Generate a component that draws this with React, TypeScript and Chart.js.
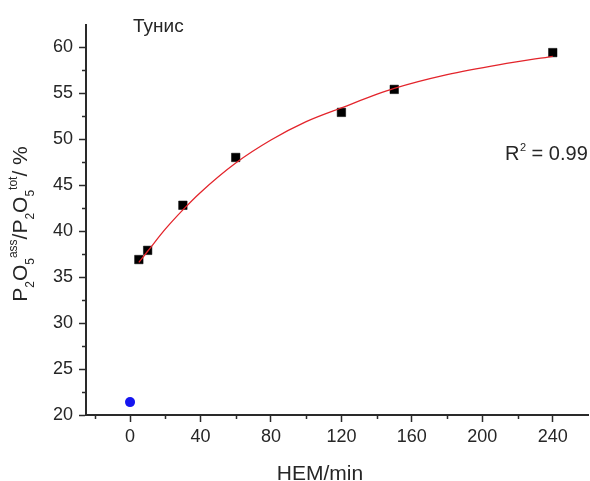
import React, { useEffect, useRef } from "react";
import { Chart, registerables } from "chart.js";
Chart.register(...registerables);

// Measured data (HEM time in minutes vs. P2O5 ass / P2O5 tot in %)
const timeMin = [5, 10, 30, 60, 120, 150, 240];
const ratioPct = [36.9, 37.9, 42.8, 48.0, 52.9, 55.4, 59.4];
// Untreated sample
const untreatedX = [0];
const untreatedY = [21.4];
// Fit curve
const fitX = [5, 10, 20, 30, 40, 60, 80, 100, 120, 150, 180, 210, 240];
const fitY = [36.6, 37.8, 40.2, 42.3, 44.2, 47.4, 49.9, 51.9, 53.4, 55.5, 57.0, 58.1, 59.0];
// Axis ticks
const xMajorStep = 40;
const xMinorTicks = [-20, 20, 60, 100, 140, 180, 220];
const yMajorStep = 5;
const yMinorTicks = [22.5, 27.5, 32.5, 37.5, 42.5, 47.5, 52.5, 57.5];
const sampleLabel = "Тунис";
const r2Label = "0.99";

const FONT = 'Arial, "Liberation Sans", sans-serif';
const TEXT = "#262626";
const AXIS = "#2a2a2a";

const decorPlugin = {
  id: "decor",
  afterDraw(chart: any) {
    const ctx = chart.ctx as CanvasRenderingContext2D;
    const xs = chart.scales.x;
    const ys = chart.scales.y;
    const area = chart.chartArea;
    ctx.save();
    ctx.strokeStyle = AXIS;
    ctx.lineWidth = 1.5;
    // minor ticks
    ctx.beginPath();
    for (const v of xMinorTicks) {
      const px = Math.round(xs.getPixelForValue(v)) + 0.5;
      ctx.moveTo(px, area.bottom);
      ctx.lineTo(px, area.bottom + 4);
    }
    for (const v of yMinorTicks) {
      const py = Math.round(ys.getPixelForValue(v)) + 0.5;
      ctx.moveTo(area.left, py);
      ctx.lineTo(area.left - 4, py);
    }
    ctx.stroke();

    ctx.fillStyle = TEXT;
    ctx.textBaseline = "alphabetic";
    // sample label
    ctx.font = `19px ${FONT}`;
    ctx.textAlign = "left";
    ctx.fillText(sampleLabel, 133, 32);

    // R^2 label
    ctx.font = `20px ${FONT}`;
    let x = 505;
    ctx.fillText("R", x, 160);
    x += ctx.measureText("R").width;
    ctx.font = `11px ${FONT}`;
    ctx.fillText("2", x + 0.5, 151);
    x += ctx.measureText("2").width + 0.5;
    ctx.font = `20px ${FONT}`;
    ctx.fillText(" = " + r2Label, x, 160);

    // x title
    ctx.font = `21px ${FONT}`;
    ctx.textAlign = "center";
    ctx.fillText("HEM/min", 320, 480);

    // y title
    ctx.save();
    ctx.translate(27, 224);
    ctx.rotate(-Math.PI / 2);
    ctx.textAlign = "left";
    const big = `21px ${FONT}`;
    const sub = `12px ${FONT}`;
    const sup = `12px ${FONT}`;
    const segs: [string, string, number][] = [
      ["P", big, 0], ["2", sub, 7], ["O", big, 0], ["5", sub, 7], ["ass", sup, -10],
      ["/", big, 0], ["P", big, 0], ["2", sub, 7], ["O", big, 0], ["5", sub, 7], ["tot", sup, -10],
      ["/ %", big, 0],
    ];
    let total = 0;
    for (const [t, f] of segs) { ctx.font = f; total += ctx.measureText(t).width; }
    let cx = -total / 2;
    for (const [t, f, dy] of segs) {
      ctx.font = f;
      ctx.fillText(t, cx, dy);
      cx += ctx.measureText(t).width;
    }
    ctx.restore();
    ctx.restore();
  },
};

export default function App() {
  const ref = useRef<HTMLCanvasElement>(null);
  useEffect(() => {
    document.body.style.margin = "0";
    const canvas = ref.current!;
    const chart = new Chart(canvas, {
      type: "scatter",
      data: {
        datasets: [
          {
            label: "fit",
            data: fitX.map((x, i) => ({ x, y: fitY[i] })),
            showLine: true,
            borderColor: "#e3242b",
            borderWidth: 1.3,
            pointRadius: 0,
            cubicInterpolationMode: "monotone",
            fill: false,
          } as any,
          {
            label: "HEM",
            data: timeMin.map((x, i) => ({ x, y: ratioPct[i] })),
            pointStyle: "rect",
            pointRadius: 6,
            backgroundColor: "#000",
            borderColor: "#000",
            borderWidth: 0.5,
          },
          {
            label: "untreated",
            data: untreatedX.map((x, i) => ({ x, y: untreatedY[i] })),
            pointStyle: "circle",
            pointRadius: 5,
            backgroundColor: "#1515f0",
            borderColor: "#1515f0",
            borderWidth: 0,
          },
        ],
      },
      options: {
        responsive: false,
        animation: false,
        layout: { autoPadding: false, padding: { top: 25, right: 2, left: 0, bottom: 0 } },
        plugins: { legend: { display: false }, tooltip: { enabled: false } },
        scales: {
          x: {
            type: "linear",
            min: -25,
            max: 260,
            afterFit: (s: any) => { s.height = 66; },
            ticks: {
              stepSize: xMajorStep,
              includeBounds: false,
              font: { family: FONT, size: 18 },
              color: TEXT,
              padding: 4,
              maxRotation: 0,
            },
            grid: {
              display: true,
              drawOnChartArea: false,
              drawTicks: true,
              tickLength: 7,
              tickWidth: 1.5,
              tickColor: AXIS,
            },
            border: { display: true, color: AXIS, width: 2 },
          },
          y: {
            type: "linear",
            min: 20,
            max: 62.4,
            afterFit: (s: any) => { s.width = 86; },
            ticks: {
              stepSize: yMajorStep,
              includeBounds: false,
              font: { family: FONT, size: 18 },
              color: TEXT,
              padding: 6,
            },
            grid: {
              display: true,
              drawOnChartArea: false,
              drawTicks: true,
              tickLength: 7,
              tickWidth: 1.5,
              tickColor: AXIS,
            },
            border: { display: true, color: AXIS, width: 2 },
          },
        },
      },
      plugins: [decorPlugin],
    });
    return () => chart.destroy();
  }, []);
  return (
    <div style={{ width: 590, height: 481 }}>
      <canvas ref={ref} width={590} height={481} style={{ display: "block" }} />
    </div>
  );
}
